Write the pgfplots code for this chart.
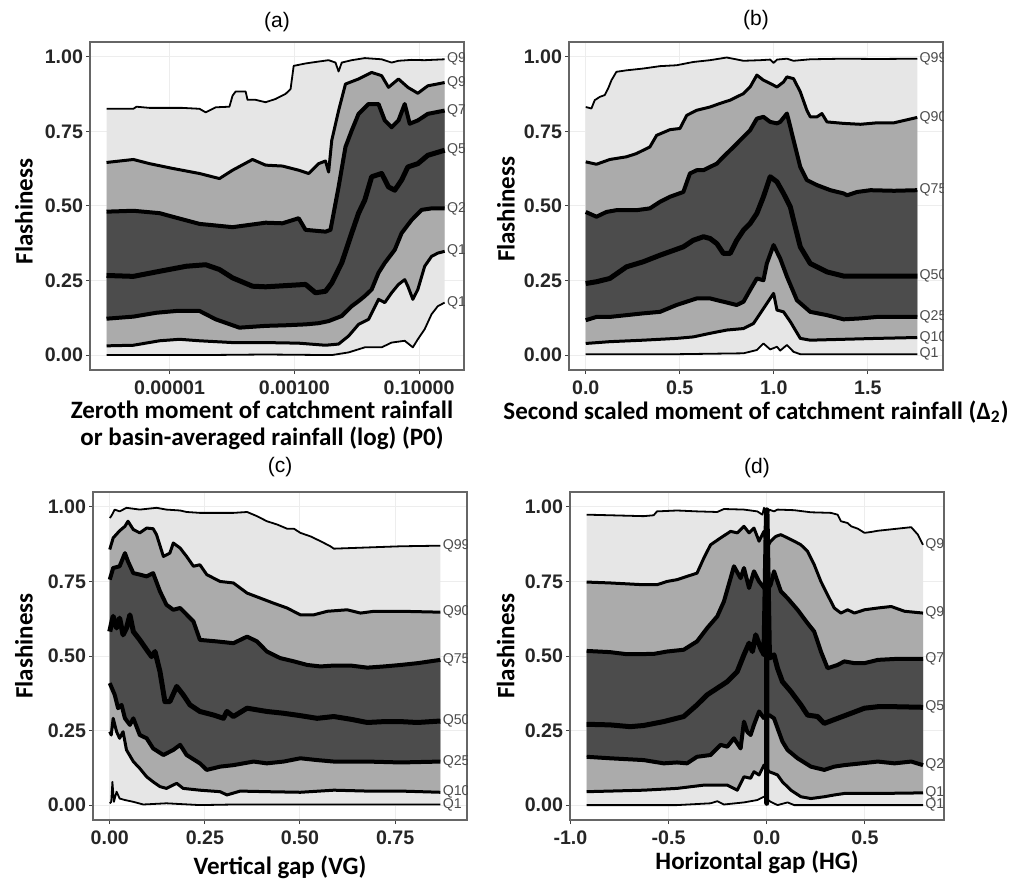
\documentclass[border=0pt]{standalone}
\usepackage{fontspec}
\setmainfont{Liberation Sans}
\newfontfamily\calibrifont{Carlito}
\usepackage{pgfplots}
\pgfplotsset{compat=1.18}
\usepgfplotslibrary{fillbetween}

\definecolor{bandlight}{HTML}{E6E6E6}
\definecolor{bandmid}{HTML}{ABABAB}
\definecolor{banddark}{HTML}{4C4C4C}

\tikzset{
  qone/.style={black, line width=0.9pt, line join=round},
  qten/.style={black, line width=1.5pt, line join=round},
  qtwf/.style={black, line width=2.0pt, line join=round},
  qfif/.style={black, line width=2.5pt, line join=round},
  qlab/.style={font=\fontsize{7.1}{8}\selectfont, text=black!70, anchor=west, inner xsep=1pt, inner ysep=0pt},
}

\pgfplotsset{
  every axis title shift=0pt,
  panel/.style={
    scale only axis, width=187pt, height=164pt,
    ymin=-0.05, ymax=1.05,
    ytick={0,0.25,0.5,0.75,1}, yticklabels={0.00,0.25,0.50,0.75,1.00},
    tick align=outside, xtick pos=bottom, ytick pos=left,
    major tick length=2pt,
    tick style={black!75, line width=0.5pt},
    axis line style={black!60, line width=0.6pt},
    grid=major, grid style={black!7, line width=0.5pt},
    ticklabel style={font=\fontsize{9.8}{10}\selectfont\bfseries, text=black!85},
    yticklabel style={xshift=2pt},
    /pgf/number format/assume math mode=true,
    set layers,
    title style={font=\fontsize{10.5}{12}\selectfont, at={(0.5,1)}, anchor=south, inner sep=0pt},
    xlabel style={font=\calibrifont\bfseries\fontsize{12.5}{13.5}\selectfont, anchor=north, inner sep=0pt, align=center},
    ylabel style={font=\calibrifont\bfseries\fontsize{12.5}{13.5}\selectfont, anchor=south, inner sep=0pt},
    ylabel={Flashiness},
  },
}

\begin{document}
\begin{tikzpicture}

% ---------------- (a) zeroth moment, log scale ----------------
\begin{axis}[panel, at={(45pt,-21pt)}, anchor=north west,
  xmin=-6.275, xmax=-0.28,
  xtick={-5,-3,-1}, xticklabels={0.00001,0.00100,0.10000},
  title={(a)}, title style={yshift=5pt},
  xlabel={Zeroth moment of catchment rainfall\\or basin-averaged rainfall (log) (P0)},
  xlabel style={at={(axis description cs:0.46,-0.094)}},
  ylabel style={at={(axis description cs:-0.152,0.483)}},
]
\addplot[qone, name path=a99] coordinates {(-6.01,0.826) (-5.58,0.826) (-5.53,0.833) (-5.32,0.829) (-4.79,0.829) (-4.52,0.826) (-4.42,0.814) (-4.26,0.831) (-4.04,0.833) (-3.99,0.870) (-3.94,0.884) (-3.78,0.884) (-3.75,0.856) (-3.62,0.856) (-3.46,0.848) (-3.30,0.859) (-3.14,0.876) (-3.06,0.892) (-3.01,0.970) (-2.82,0.978) (-2.66,0.983) (-2.45,0.989) (-2.34,0.981) (-2.29,0.951) (-2.24,0.981) (-2.08,0.989) (-1.87,0.996) (-1.60,0.992) (-1.44,0.981) (-1.33,0.987) (-1.12,0.990) (-0.91,0.989) (-0.59,0.992)};
\addplot[qten, name path=a90] coordinates {(-6.01,0.646) (-5.58,0.656) (-5.32,0.642) (-4.95,0.626) (-4.52,0.609) (-4.20,0.592) (-3.99,0.620) (-3.67,0.656) (-3.46,0.637) (-3.19,0.634) (-2.93,0.620) (-2.77,0.609) (-2.61,0.642) (-2.50,0.651) (-2.45,0.614) (-2.40,0.720) (-2.29,0.820) (-2.18,0.909) (-1.97,0.926) (-1.76,0.948) (-1.60,0.937) (-1.49,0.898) (-1.33,0.926) (-1.18,0.898) (-1.02,0.878) (-0.86,0.903) (-0.59,0.914)};
\addplot[qtwf, name path=a75] coordinates {(-6.01,0.481) (-5.58,0.484) (-5.16,0.476) (-4.95,0.464) (-4.52,0.440) (-3.99,0.429) (-3.46,0.444) (-3.19,0.442) (-2.93,0.459) (-2.82,0.420) (-2.50,0.414) (-2.42,0.420) (-2.29,0.564) (-2.18,0.698) (-2.08,0.753) (-1.97,0.809) (-1.81,0.842) (-1.65,0.842) (-1.55,0.787) (-1.44,0.764) (-1.33,0.787) (-1.23,0.842) (-1.15,0.776) (-1.02,0.787) (-0.86,0.809) (-0.59,0.820)};
\addplot[qfif, name path=a50] coordinates {(-6.01,0.267) (-5.58,0.264) (-5.16,0.281) (-4.73,0.298) (-4.42,0.303) (-4.20,0.287) (-3.99,0.259) (-3.67,0.231) (-3.46,0.229) (-3.14,0.233) (-2.82,0.237) (-2.66,0.209) (-2.50,0.214) (-2.40,0.242) (-2.24,0.309) (-2.08,0.409) (-1.97,0.476) (-1.87,0.520) (-1.76,0.598) (-1.60,0.609) (-1.49,0.564) (-1.39,0.553) (-1.28,0.587) (-1.18,0.631) (-1.02,0.642) (-0.86,0.670) (-0.59,0.687)};
\addplot[qtwf, name path=a25] coordinates {(-6.01,0.122) (-5.58,0.129) (-5.21,0.142) (-4.89,0.148) (-4.52,0.148) (-4.26,0.120) (-3.88,0.092) (-3.46,0.098) (-3.14,0.100) (-2.82,0.103) (-2.61,0.107) (-2.45,0.114) (-2.24,0.131) (-2.08,0.164) (-1.97,0.181) (-1.87,0.198) (-1.76,0.220) (-1.65,0.276) (-1.55,0.309) (-1.39,0.353) (-1.28,0.409) (-1.12,0.453) (-0.96,0.487) (-0.80,0.492) (-0.59,0.492)};
\addplot[qten, name path=a10] coordinates {(-6.01,0.031) (-5.58,0.033) (-5.16,0.048) (-4.84,0.053) (-4.52,0.048) (-3.99,0.042) (-3.46,0.042) (-2.93,0.040) (-2.50,0.033) (-2.29,0.037) (-2.13,0.064) (-1.97,0.103) (-1.81,0.120) (-1.65,0.187) (-1.55,0.176) (-1.44,0.209) (-1.33,0.237) (-1.23,0.253) (-1.18,0.231) (-1.10,0.187) (-1.02,0.220) (-0.91,0.298) (-0.80,0.331) (-0.70,0.342) (-0.59,0.348)};
\addplot[qone, name path=a1] coordinates {(-6.01,0.000) (-4.52,0.000) (-3.46,0.002) (-2.40,0.000) (-2.13,0.009) (-1.87,0.026) (-1.60,0.026) (-1.44,0.042) (-1.23,0.048) (-1.10,0.026) (-1.02,0.053) (-0.91,0.087) (-0.80,0.137) (-0.70,0.164) (-0.59,0.176)};
\addplot[fill=bandlight, draw=none] fill between[of=a99 and a1];
\addplot[fill=bandmid, draw=none] fill between[of=a90 and a10];
\addplot[fill=banddark, draw=none] fill between[of=a75 and a25];
\node[qlab] at (axis cs:-0.59,0.992) {Q99};
\node[qlab] at (axis cs:-0.59,0.914) {Q90};
\node[qlab] at (axis cs:-0.59,0.820) {Q75};
\node[qlab] at (axis cs:-0.59,0.687) {Q50};
\node[qlab] at (axis cs:-0.59,0.492) {Q25};
\node[qlab] at (axis cs:-0.59,0.348) {Q10};
\node[qlab] at (axis cs:-0.59,0.176) {Q1};
\end{axis}

% ---------------- (b) second scaled moment ----------------
\begin{axis}[panel, at={(284.5pt,-21pt)}, anchor=north west,
  xmin=-0.089, xmax=1.90,
  xtick={0,0.5,1,1.5}, xticklabels={0.0,0.5,1.0,1.5},
  title={(b)}, title style={yshift=6pt},
  xlabel={Second scaled moment of catchment rainfall (Δ\textsubscript{2})},
  xlabel style={at={(axis description cs:0.5,-0.092)}},
  ylabel style={at={(axis description cs:-0.144,0.49)}},
]
\addplot[qone, name path=b99] coordinates {(0.000,0.832) (0.030,0.827) (0.048,0.855) (0.075,0.866) (0.101,0.872) (0.119,0.894) (0.137,0.922) (0.163,0.950) (0.217,0.955) (0.306,0.961) (0.395,0.969) (0.483,0.972) (0.572,0.983) (0.661,0.989) (0.750,0.998) (0.839,0.987) (0.928,0.989) (0.981,0.991) (0.999,0.980) (1.017,0.991) (1.070,0.994) (1.105,0.987) (1.194,0.992) (1.372,0.994) (1.550,0.993) (1.763,0.994)};
\addplot[qten, name path=b90] coordinates {(0.000,0.648) (0.057,0.640) (0.128,0.656) (0.217,0.665) (0.270,0.676) (0.341,0.698) (0.377,0.737) (0.448,0.756) (0.501,0.760) (0.537,0.804) (0.590,0.821) (0.661,0.832) (0.714,0.844) (0.768,0.855) (0.839,0.877) (0.874,0.899) (0.910,0.939) (0.945,0.922) (0.981,0.911) (1.017,0.899) (1.052,0.916) (1.070,0.933) (1.105,0.927) (1.141,0.883) (1.176,0.821) (1.194,0.799) (1.230,0.799) (1.256,0.810) (1.283,0.782) (1.372,0.777) (1.461,0.774) (1.550,0.779) (1.639,0.779) (1.763,0.797)};
\addplot[qtwf, name path=b75] coordinates {(0.000,0.480) (0.057,0.464) (0.110,0.480) (0.163,0.486) (0.270,0.486) (0.341,0.492) (0.395,0.514) (0.448,0.531) (0.519,0.547) (0.554,0.609) (0.590,0.620) (0.626,0.620) (0.661,0.631) (0.697,0.642) (0.732,0.665) (0.786,0.698) (0.839,0.732) (0.874,0.754) (0.910,0.793) (0.945,0.799) (0.981,0.782) (1.017,0.777) (1.034,0.782) (1.070,0.810) (1.088,0.765) (1.105,0.721) (1.141,0.631) (1.176,0.587) (1.230,0.570) (1.301,0.553) (1.372,0.542) (1.390,0.536) (1.443,0.547) (1.514,0.553) (1.639,0.551) (1.763,0.553)};
\addplot[qfif, name path=b50] coordinates {(0.000,0.240) (0.057,0.246) (0.128,0.257) (0.217,0.296) (0.306,0.313) (0.395,0.335) (0.519,0.363) (0.572,0.385) (0.626,0.397) (0.661,0.391) (0.697,0.374) (0.732,0.341) (0.768,0.341) (0.803,0.385) (0.839,0.419) (0.874,0.441) (0.910,0.475) (0.945,0.531) (0.981,0.598) (1.017,0.581) (1.052,0.542) (1.088,0.497) (1.105,0.453) (1.141,0.363) (1.194,0.307) (1.283,0.279) (1.372,0.265) (1.550,0.265) (1.763,0.265)};
\addplot[qtwf, name path=b25] coordinates {(0.000,0.117) (0.057,0.128) (0.128,0.128) (0.306,0.140) (0.395,0.145) (0.483,0.168) (0.590,0.190) (0.661,0.190) (0.732,0.179) (0.803,0.168) (0.839,0.179) (0.874,0.218) (0.910,0.257) (0.945,0.251) (0.963,0.307) (0.999,0.369) (1.034,0.324) (1.070,0.263) (1.123,0.184) (1.194,0.145) (1.283,0.134) (1.372,0.120) (1.461,0.123) (1.550,0.128) (1.763,0.128)};
\addplot[qten, name path=b10] coordinates {(0.000,0.039) (0.128,0.045) (0.306,0.050) (0.483,0.056) (0.572,0.061) (0.661,0.073) (0.750,0.084) (0.839,0.089) (0.892,0.106) (0.945,0.156) (0.999,0.207) (1.017,0.151) (1.052,0.145) (1.088,0.112) (1.141,0.056) (1.194,0.050) (1.372,0.053) (1.550,0.056) (1.763,0.059)};
\addplot[qone, name path=b1] coordinates {(0.000,0.003) (0.483,0.003) (0.839,0.006) (0.910,0.017) (0.945,0.039) (0.981,0.019) (1.017,0.028) (1.034,0.015) (1.070,0.034) (1.105,0.011) (1.141,0.003) (1.763,0.003)};
\addplot[fill=bandlight, draw=none] fill between[of=b99 and b1];
\addplot[fill=bandmid, draw=none] fill between[of=b90 and b10];
\addplot[fill=banddark, draw=none] fill between[of=b75 and b25];
\node[qlab] at (axis cs:1.763,0.994) {Q99};
\node[qlab] at (axis cs:1.763,0.797) {Q90};
\node[qlab] at (axis cs:1.763,0.553) {Q75};
\node[qlab] at (axis cs:1.763,0.265) {Q50};
\node[qlab] at (axis cs:1.763,0.128) {Q25};
\node[qlab] at (axis cs:1.763,0.059) {Q10};
\node[qlab] at (axis cs:1.763,0.003) {Q1};
\end{axis}

% ---------------- (c) vertical gap ----------------
\begin{axis}[panel, at={(46.5pt,-246pt)}, anchor=north west,
  xmin=-0.044, xmax=0.939,
  xtick={0,0.25,0.5,0.75}, xticklabels={0.00,0.25,0.50,0.75},
  title={(c)}, title style={yshift=7.5pt},
  xlabel={Vertical gap (VG)},
  xlabel style={at={(axis description cs:0.5,-0.107)}},
  ylabel style={at={(axis description cs:-0.160,0.53)}},
]
\addplot[qone, name path=c99] coordinates {(0.000,0.963) (0.004,0.969) (0.013,0.991) (0.026,0.985) (0.044,0.997) (0.079,0.991) (0.123,0.997) (0.149,0.991) (0.185,0.988) (0.202,0.983) (0.237,0.980) (0.325,0.980) (0.361,0.983) (0.387,0.969) (0.413,0.952) (0.440,0.941) (0.466,0.927) (0.484,0.927) (0.501,0.913) (0.528,0.901) (0.554,0.885) (0.580,0.868) (0.589,0.860) (0.633,0.862) (0.677,0.864) (0.765,0.868) (0.869,0.870)};
\addplot[qten, name path=c90] coordinates {(0.000,0.857) (0.009,0.896) (0.026,0.920) (0.040,0.935) (0.048,0.952) (0.062,0.924) (0.079,0.913) (0.097,0.929) (0.114,0.927) (0.123,0.907) (0.141,0.834) (0.158,0.845) (0.167,0.879) (0.185,0.862) (0.202,0.834) (0.220,0.801) (0.237,0.806) (0.255,0.773) (0.290,0.750) (0.325,0.745) (0.361,0.711) (0.396,0.694) (0.431,0.677) (0.466,0.661) (0.501,0.638) (0.536,0.638) (0.572,0.650) (0.624,0.655) (0.659,0.644) (0.695,0.650) (0.765,0.650) (0.869,0.647)};
\addplot[qtwf, name path=c75] coordinates {(0.000,0.756) (0.009,0.795) (0.026,0.801) (0.040,0.845) (0.048,0.817) (0.062,0.778) (0.079,0.773) (0.097,0.767) (0.114,0.778) (0.132,0.717) (0.149,0.672) (0.167,0.655) (0.185,0.661) (0.220,0.616) (0.237,0.554) (0.281,0.549) (0.325,0.543) (0.361,0.565) (0.387,0.549) (0.413,0.515) (0.448,0.493) (0.484,0.482) (0.519,0.470) (0.554,0.465) (0.589,0.468) (0.633,0.468) (0.677,0.461) (0.721,0.465) (0.765,0.470) (0.809,0.476) (0.869,0.487)};
\addplot[qfif, name path=c50] coordinates {(0.000,0.582) (0.009,0.633) (0.018,0.594) (0.026,0.627) (0.035,0.571) (0.044,0.594) (0.053,0.638) (0.062,0.582) (0.079,0.554) (0.097,0.521) (0.110,0.498) (0.119,0.515) (0.132,0.448) (0.145,0.347) (0.158,0.347) (0.176,0.398) (0.193,0.370) (0.211,0.336) (0.237,0.314) (0.273,0.302) (0.299,0.291) (0.308,0.314) (0.325,0.297) (0.361,0.325) (0.413,0.314) (0.457,0.308) (0.501,0.300) (0.545,0.291) (0.589,0.297) (0.633,0.288) (0.677,0.277) (0.721,0.280) (0.765,0.280) (0.809,0.277) (0.869,0.282)};
\addplot[qtwf, name path=c25] coordinates {(0.000,0.409) (0.013,0.370) (0.022,0.325) (0.031,0.336) (0.040,0.291) (0.053,0.269) (0.062,0.291) (0.079,0.235) (0.097,0.224) (0.114,0.190) (0.141,0.168) (0.167,0.185) (0.185,0.202) (0.202,0.168) (0.237,0.140) (0.255,0.118) (0.290,0.129) (0.325,0.134) (0.378,0.146) (0.413,0.140) (0.457,0.146) (0.501,0.157) (0.545,0.151) (0.589,0.146) (0.677,0.146) (0.765,0.143) (0.869,0.146)};
\addplot[qten, name path=c10] coordinates {(0.000,0.246) (0.004,0.235) (0.009,0.291) (0.018,0.246) (0.026,0.224) (0.035,0.246) (0.044,0.185) (0.062,0.146) (0.079,0.123) (0.097,0.095) (0.114,0.078) (0.132,0.062) (0.149,0.056) (0.176,0.073) (0.193,0.056) (0.237,0.050) (0.290,0.045) (0.308,0.034) (0.343,0.047) (0.413,0.045) (0.501,0.043) (0.589,0.050) (0.677,0.047) (0.765,0.047) (0.869,0.043)};
\addplot[qone, name path=c1] coordinates {(0.000,0.006) (0.004,0.011) (0.007,0.078) (0.011,0.011) (0.018,0.045) (0.026,0.022) (0.040,0.017) (0.062,0.011) (0.088,0.002) (0.149,0.006) (0.237,0.000) (0.325,0.002) (0.501,0.002) (0.869,0.002)};
\addplot[fill=bandlight, draw=none] fill between[of=c99 and c1];
\addplot[fill=bandmid, draw=none] fill between[of=c90 and c10];
\addplot[fill=banddark, draw=none] fill between[of=c75 and c25];
\node[qlab] at (axis cs:0.869,0.870) {Q99};
\node[qlab] at (axis cs:0.869,0.647) {Q90};
\node[qlab] at (axis cs:0.869,0.487) {Q75};
\node[qlab] at (axis cs:0.869,0.282) {Q50};
\node[qlab] at (axis cs:0.869,0.146) {Q25};
\node[qlab] at (axis cs:0.869,0.043) {Q10};
\node[qlab] at (axis cs:0.869,0.002) {Q1};
\end{axis}

% ---------------- (d) horizontal gap ----------------
\begin{axis}[panel, at={(285pt,-246pt)}, anchor=north west,
  xmin=-1.002, xmax=0.903,
  xtick={-1,-0.5,0,0.5}, xticklabels={-1.0,-0.5,0.0,0.5},
  title={(d)}, title style={yshift=7pt},
  xlabel={Horizontal gap (HG)},
  xlabel style={at={(axis description cs:0.5,-0.092)}},
  ylabel style={at={(axis description cs:-0.147,0.53)}},
]
\addplot[qone, name path=d99] coordinates {(-0.917,0.974) (-0.798,0.972) (-0.627,0.969) (-0.576,0.972) (-0.559,0.985) (-0.457,0.988) (-0.355,0.985) (-0.252,0.983) (-0.218,0.993) (-0.116,0.991) (-0.048,0.985) (-0.022,0.974) (-0.014,0.997) (0.000,0.963) (0.012,0.991) (0.037,0.985) (0.055,0.991) (0.140,0.989) (0.225,0.982) (0.327,0.980) (0.361,0.974) (0.378,0.952) (0.412,0.946) (0.430,0.935) (0.464,0.927) (0.498,0.913) (0.532,0.916) (0.566,0.920) (0.651,0.926) (0.736,0.932) (0.770,0.907) (0.796,0.873)};
\addplot[qten, name path=d90] coordinates {(-0.917,0.748) (-0.798,0.745) (-0.627,0.739) (-0.559,0.739) (-0.508,0.750) (-0.457,0.756) (-0.406,0.767) (-0.355,0.778) (-0.320,0.829) (-0.286,0.873) (-0.235,0.896) (-0.184,0.918) (-0.150,0.913) (-0.116,0.935) (-0.090,0.913) (-0.065,0.929) (-0.039,0.885) (-0.014,0.918) (0.000,0.862) (0.020,0.885) (0.046,0.901) (0.072,0.907) (0.106,0.896) (0.140,0.885) (0.174,0.873) (0.208,0.851) (0.242,0.806) (0.276,0.750) (0.310,0.705) (0.344,0.661) (0.378,0.644) (0.412,0.655) (0.447,0.644) (0.498,0.655) (0.566,0.661) (0.634,0.666) (0.702,0.650) (0.796,0.644)};
\addplot[qtwf, name path=d75] coordinates {(-0.917,0.517) (-0.798,0.513) (-0.712,0.506) (-0.576,0.507) (-0.508,0.515) (-0.423,0.521) (-0.355,0.549) (-0.303,0.594) (-0.252,0.633) (-0.218,0.683) (-0.184,0.761) (-0.167,0.801) (-0.133,0.761) (-0.116,0.795) (-0.090,0.728) (-0.065,0.784) (-0.039,0.750) (0.000,0.717) (0.020,0.739) (0.037,0.784) (0.072,0.717) (0.106,0.694) (0.157,0.655) (0.208,0.610) (0.242,0.582) (0.276,0.515) (0.310,0.459) (0.361,0.470) (0.395,0.482) (0.447,0.476) (0.498,0.476) (0.566,0.487) (0.651,0.490) (0.796,0.490)};
\addplot[qfif, name path=d50] coordinates {(-0.917,0.271) (-0.798,0.269) (-0.695,0.263) (-0.627,0.267) (-0.525,0.280) (-0.423,0.297) (-0.355,0.336) (-0.303,0.370) (-0.252,0.392) (-0.201,0.414) (-0.150,0.448) (-0.116,0.504) (-0.090,0.543) (-0.073,0.515) (-0.056,0.571) (-0.031,0.526) (-0.014,0.504) (-0.001,0.990) (0.000,0.006) (0.001,0.990) (0.014,0.493) (0.037,0.504) (0.055,0.459) (0.080,0.414) (0.123,0.381) (0.174,0.336) (0.208,0.302) (0.259,0.297) (0.293,0.274) (0.361,0.291) (0.430,0.308) (0.498,0.325) (0.566,0.330) (0.651,0.330) (0.796,0.328)};
\addplot[qtwf, name path=d25] coordinates {(-0.917,0.162) (-0.798,0.157) (-0.627,0.151) (-0.525,0.140) (-0.457,0.143) (-0.406,0.140) (-0.355,0.162) (-0.286,0.168) (-0.235,0.202) (-0.201,0.196) (-0.167,0.224) (-0.133,0.190) (-0.116,0.280) (-0.099,0.246) (-0.082,0.235) (-0.065,0.269) (-0.039,0.314) (-0.014,0.291) (0.012,0.302) (0.037,0.291) (0.055,0.258) (0.080,0.213) (0.106,0.185) (0.157,0.157) (0.225,0.129) (0.293,0.118) (0.344,0.129) (0.395,0.134) (0.481,0.140) (0.566,0.146) (0.651,0.140) (0.736,0.146) (0.796,0.134)};
\addplot[qten, name path=d10] coordinates {(-0.917,0.045) (-0.798,0.047) (-0.627,0.050) (-0.457,0.056) (-0.320,0.067) (-0.201,0.067) (-0.150,0.050) (-0.116,0.095) (-0.082,0.090) (-0.065,0.112) (-0.039,0.101) (-0.014,0.134) (0.012,0.112) (0.037,0.106) (0.055,0.101) (0.080,0.078) (0.123,0.050) (0.174,0.028) (0.225,0.022) (0.293,0.028) (0.344,0.034) (0.395,0.039) (0.566,0.039) (0.796,0.041)};
\addplot[qone, name path=d1] coordinates {(-0.917,0.000) (-0.457,0.000) (-0.286,0.006) (-0.252,0.013) (-0.218,0.002) (-0.116,0.009) (-0.048,0.017) (-0.014,0.028) (0.020,0.011) (0.055,0.000) (0.106,0.009) (0.140,0.000) (0.796,0.000)};
\addplot[fill=bandlight, draw=none] fill between[of=d99 and d1];
\addplot[fill=bandmid, draw=none] fill between[of=d90 and d10];
\addplot[fill=banddark, draw=none] fill between[of=d75 and d25];
\node[qlab] at (axis cs:0.796,0.873) {Q99};
\node[qlab] at (axis cs:0.796,0.644) {Q90};
\node[qlab] at (axis cs:0.796,0.490) {Q75};
\node[qlab] at (axis cs:0.796,0.328) {Q50};
\node[qlab] at (axis cs:0.796,0.134) {Q25};
\node[qlab] at (axis cs:0.796,0.041) {Q10};
\node[qlab] at (axis cs:0.796,0.000) {Q1};
\end{axis}

% fixed page frame
\pgfresetboundingbox
\path[use as bounding box] (0,0) rectangle (516pt,-441pt);
\end{tikzpicture}
\end{document}
